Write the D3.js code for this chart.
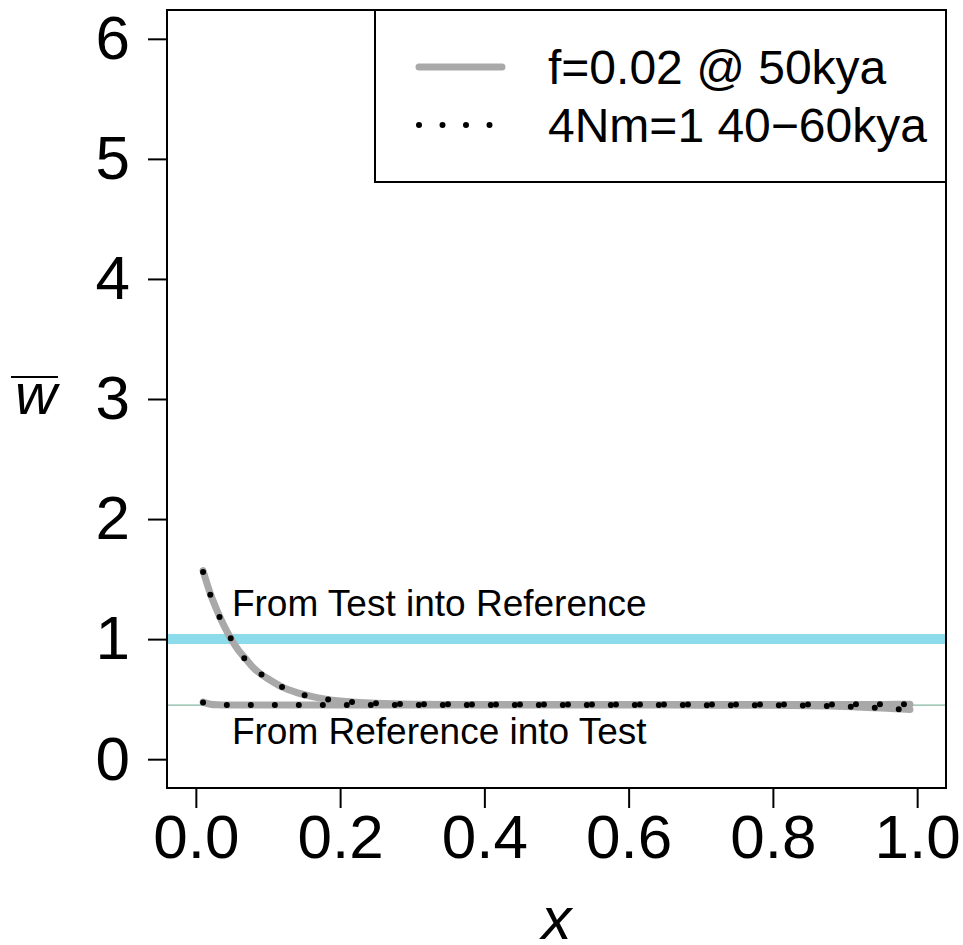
<!DOCTYPE html>
<html>
<head>
<meta charset="utf-8">
<script src="https://cdn.jsdelivr.net/npm/d3@7"></script>
<style>
  html, body { margin: 0; padding: 0; background: #fff; }
  svg text { font-family: "Liberation Sans", Arial, Helvetica, sans-serif; fill: #000; }
</style>
</head>
<body>
<svg id="chart" width="963" height="945"></svg>
<script>
// data
const xTicks = [0, 0.2, 0.4, 0.6, 0.8, 1.0];
const yTicks = [0, 1, 2, 3, 4, 5, 6];

const xGrid = [0.01, 0.02, 0.03, 0.04, 0.05, 0.06, 0.07, 0.08, 0.09, 0.10,
  0.12, 0.14, 0.16, 0.18, 0.20, 0.22, 0.25, 0.30, 0.35, 0.40,
  0.45, 0.50, 0.55, 0.60, 0.65, 0.70, 0.75, 0.80, 0.85, 0.88,
  0.91, 0.94, 0.97, 0.99];

// f=0.02 @ 50kya (grey)
const fTestIntoRef = [1.57, 1.38, 1.23, 1.10, 0.99, 0.90, 0.83, 0.76, 0.71, 0.67,
  0.60, 0.555, 0.523, 0.50, 0.485, 0.475, 0.465, 0.458, 0.456, 0.455,
  0.455, 0.455, 0.455, 0.455, 0.455, 0.455, 0.455, 0.455, 0.455, 0.455,
  0.456, 0.456, 0.457, 0.457];
const fRefIntoTest = [0.475, 0.458, 0.453, 0.452, 0.451, 0.451, 0.451, 0.451, 0.451, 0.451,
  0.451, 0.451, 0.451, 0.451, 0.451, 0.451, 0.451, 0.451, 0.451, 0.451,
  0.451, 0.451, 0.451, 0.451, 0.451, 0.450, 0.450, 0.449, 0.446, 0.442,
  0.436, 0.428, 0.420, 0.413];

// 4Nm=1 40-60kya (dotted)
const nmTestIntoRef = [1.56, 1.37, 1.22, 1.10, 0.99, 0.90, 0.82, 0.76, 0.71, 0.67,
  0.60, 0.553, 0.520, 0.50, 0.485, 0.474, 0.465, 0.459, 0.457, 0.456,
  0.456, 0.456, 0.456, 0.456, 0.456, 0.456, 0.456, 0.456, 0.456, 0.456,
  0.457, 0.457, 0.458, 0.458];
const nmRefIntoTest = [0.472, 0.457, 0.453, 0.452, 0.451, 0.451, 0.451, 0.451, 0.451, 0.451,
  0.451, 0.451, 0.451, 0.451, 0.451, 0.451, 0.451, 0.451, 0.451, 0.451,
  0.451, 0.451, 0.451, 0.451, 0.451, 0.450, 0.450, 0.449, 0.447, 0.443,
  0.437, 0.428, 0.418, 0.412];

const refLineValue = 1;      // thick blue line
const meanLineValue = 0.45;  // thin line

const legendLabels = ["f=0.02 @ 50kya", "4Nm=1 40\u221260kya"];
const annotLabels = ["From Test into Reference", "From Reference into Test"];
const annotX = [0.05, 0.05];
const annotY = [1.3, 0.24];

// layout
const box = { left: 167, top: 10, right: 946, bottom: 788 };
const tickFont = 62;
const legendFont = 48;
const annotFont = 37;

const greyCol = "#a9a9a9";
const blueCol = "#8ddcec";
const thinCol = "#86b9a3";

const svg = d3.select("#chart");

const x = d3.scaleLinear().domain([-0.04, 1.04]).range([box.left, box.right]);
const y = d3.scaleLinear().domain([-0.24, 6.24]).range([box.bottom, box.top]);

// horizontal reference lines
svg.append("line")
  .attr("x1", box.left).attr("x2", box.right)
  .attr("y1", y(refLineValue)).attr("y2", y(refLineValue))
  .attr("stroke", blueCol).attr("stroke-width", 10);

svg.append("line")
  .attr("x1", box.left).attr("x2", box.right)
  .attr("y1", y(meanLineValue)).attr("y2", y(meanLineValue))
  .attr("stroke", thinCol).attr("stroke-width", 1.3);

const line = d3.line()
  .x(d => x(d[0]))
  .y(d => y(d[1]))
  .curve(d3.curveMonotoneX);

const zipped = vals => xGrid.map((v, i) => [v, vals[i]]);

// grey curves
[fTestIntoRef, fRefIntoTest].forEach(s => {
  svg.append("path")
    .datum(zipped(s))
    .attr("d", line)
    .attr("fill", "none")
    .attr("stroke", greyCol)
    .attr("stroke-width", 7)
    .attr("stroke-linecap", "round")
    .attr("stroke-linejoin", "round");
});

// dotted curves
[nmTestIntoRef, nmRefIntoTest].forEach(s => {
  svg.append("path")
    .datum(zipped(s))
    .attr("d", line)
    .attr("fill", "none")
    .attr("stroke", "#000")
    .attr("stroke-width", 6)
    .attr("stroke-linecap", "round")
    .attr("stroke-dasharray", "0 24");
});

// annotations
svg.append("g")
  .selectAll("text")
  .data(annotLabels)
  .enter()
  .append("text")
  .attr("x", (d, i) => x(annotX[i]))
  .attr("y", (d, i) => y(annotY[i]) + 0.358 * annotFont)
  .style("font-size", annotFont + "px")
  .text(d => d);

// axes
const yAxis = svg.append("g")
  .attr("transform", `translate(${box.left},0)`)
  .call(d3.axisLeft(y).tickValues(yTicks).tickSize(19).tickPadding(18).tickFormat(d3.format("d")));

const xAxis = svg.append("g")
  .attr("transform", `translate(0,${box.bottom})`)
  .call(d3.axisBottom(x).tickValues(xTicks).tickSize(20).tickPadding(6).tickFormat(d3.format(".1f")));

[yAxis, xAxis].forEach(g => {
  g.select(".domain").remove();
  g.selectAll(".tick line").attr("stroke", "#000").attr("stroke-width", 2);
  g.selectAll(".tick text")
    .attr("fill", "#000")
    .style("font-size", tickFont + "px")
    .style("font-family", '"Liberation Sans", Arial, Helvetica, sans-serif');
});

// plot box
svg.append("rect")
  .attr("x", box.left).attr("y", box.top)
  .attr("width", box.right - box.left)
  .attr("height", box.bottom - box.top)
  .attr("fill", "none")
  .attr("stroke", "#000")
  .attr("stroke-width", 2);

// axis titles
svg.append("text")
  .attr("x", (box.left + box.right) / 2)
  .attr("y", 939)
  .attr("text-anchor", "middle")
  .style("font-size", "60px")
  .style("font-style", "italic")
  .text("x");

svg.append("text")
  .attr("x", 36)
  .attr("y", 414)
  .attr("text-anchor", "middle")
  .style("font-size", "58px")
  .style("font-style", "italic")
  .text("w");

svg.append("line")
  .attr("x1", 11).attr("x2", 58)
  .attr("y1", 377).attr("y2", 377)
  .attr("stroke", "#000").attr("stroke-width", 2.2);

// legend
const leg = { left: 375, top: 10, right: box.right, bottom: 182 };
svg.append("rect")
  .attr("x", leg.left).attr("y", leg.top)
  .attr("width", leg.right - leg.left)
  .attr("height", leg.bottom - leg.top)
  .attr("fill", "#fff")
  .attr("stroke", "#000")
  .attr("stroke-width", 2);

const rowY = [67, 125];

const legRow = svg.append("g")
  .selectAll("g")
  .data(legendLabels)
  .enter()
  .append("g")
  .attr("transform", (d, i) => `translate(0,${rowY[i]})`);

legRow.append("line")
  .attr("x1", 419).attr("x2", 502)
  .attr("y1", 0).attr("y2", 0)
  .attr("stroke", (d, i) => i == 0 ? greyCol : "#000")
  .attr("stroke-width", (d, i) => i == 0 ? 7 : 6)
  .attr("stroke-linecap", "round")
  .attr("stroke-dasharray", (d, i) => i == 0 ? null : "0 23.5");

legRow.append("text")
  .attr("x", 548)
  .attr("y", 0.358 * legendFont)
  .style("font-size", legendFont + "px")
  .text(d => d);
</script>
</body>
</html>
